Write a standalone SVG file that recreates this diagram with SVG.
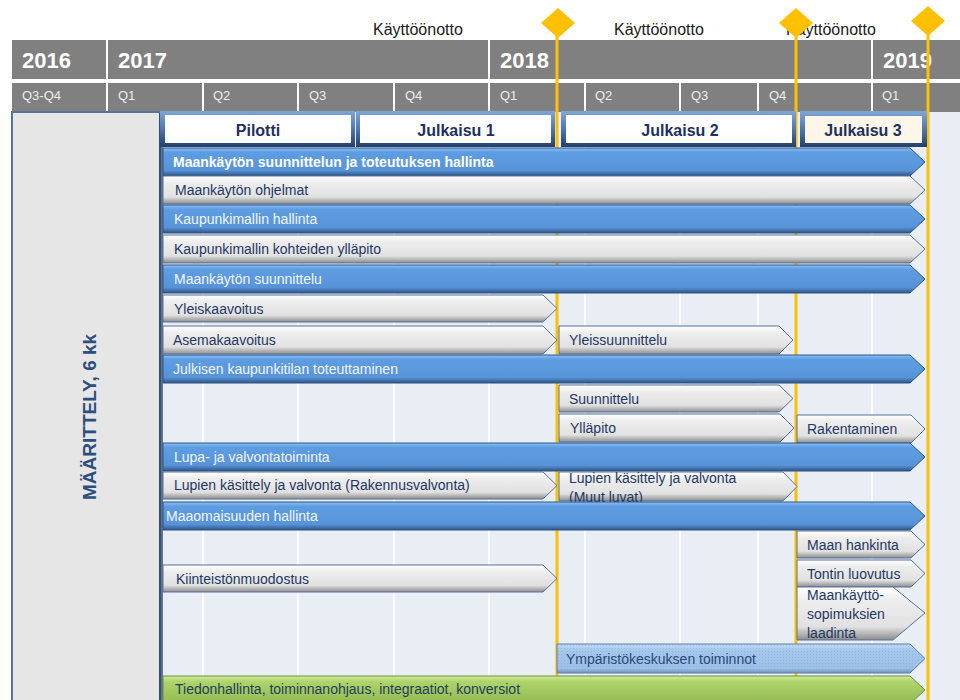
<svg xmlns="http://www.w3.org/2000/svg" width="960" height="700" viewBox="0 0 960 700">
<defs>
<style>
.hdr{fill:#808080}
.sep{stroke:#FFFFFF;stroke-width:2}
.grid{stroke:#FFFFFF;stroke-width:1.5}
.yr{font-family:"Liberation Sans",Arial,sans-serif;font-weight:bold;font-size:22px;fill:#FFFFFF}
.q{font-family:"Liberation Sans",Arial,sans-serif;font-size:13px;fill:#EDEDED}
.ko{font-family:"Liberation Sans",Arial,sans-serif;font-size:16px;fill:#1A1A1A}
.ms{stroke:#FFC000;stroke-width:3;fill:none}
.dia{fill:#FFC000}
.blue{fill:url(#gBlue);stroke:#2F5586;stroke-width:1}
.gray{fill:url(#gGray);stroke:#56739A;stroke-width:1}
.lblue{fill:url(#gLBlue);stroke:#5A7EAE;stroke-width:1}
.green{fill:url(#gGreen);stroke:#6E8E3A;stroke-width:1}
.t{font-family:"Liberation Sans",Arial,sans-serif;font-size:14px}
.tg{fill:#1F3864}
.tb{fill:#F2F6FC}
.tbb{fill:#FFFFFF;font-weight:bold}
.tl{fill:#2A4A78}
.tgr{fill:#1F3F5C}
.frame{fill:url(#gFrame)}
.jl{font-family:"Liberation Sans",Arial,sans-serif;font-size:16px;font-weight:bold;fill:#1F2F5F}
</style>
<linearGradient id="gBlue" x1="0" y1="0" x2="0" y2="1">
<stop offset="0" stop-color="#8EC0F5"/>
<stop offset="0.15" stop-color="#5E9DE2"/>
<stop offset="0.8" stop-color="#5893D8"/>
<stop offset="1" stop-color="#2F5586"/>
</linearGradient>
<linearGradient id="gGray" x1="0" y1="0" x2="0" y2="1">
<stop offset="0" stop-color="#FFFFFF"/>
<stop offset="0.25" stop-color="#EDEDED"/>
<stop offset="0.75" stop-color="#E1E1E1"/>
<stop offset="1" stop-color="#8C8C8C"/>
</linearGradient>
<linearGradient id="gLBlue" x1="0" y1="0" x2="0" y2="1">
<stop offset="0" stop-color="#C6DDF5"/>
<stop offset="0.2" stop-color="#A6C8EE"/>
<stop offset="0.85" stop-color="#9CC0E8"/>
<stop offset="1" stop-color="#6F8FB8"/>
</linearGradient>
<linearGradient id="gGreen" x1="0" y1="0" x2="0" y2="1">
<stop offset="0" stop-color="#D2EC9C"/>
<stop offset="0.2" stop-color="#AED46B"/>
<stop offset="1" stop-color="#93B852"/>
</linearGradient>
<linearGradient id="gFrame" x1="0" y1="0" x2="0" y2="1">
<stop offset="0" stop-color="#7FA6D8"/>
<stop offset="0.5" stop-color="#4E78B0"/>
<stop offset="1" stop-color="#243F6A"/>
</linearGradient>
<pattern id="dots" width="3" height="3" patternUnits="userSpaceOnUse">
<rect x="0" y="0" width="1" height="1" fill="#7E9FCB" opacity="0.45"/>
</pattern>
</defs>

<rect width="960" height="700" fill="#FFFFFF"/>
<g id="chart-background">
<rect x="162" y="111" width="798" height="589" fill="#E9EDF4"/>
<line class="grid" x1="203" y1="112" x2="203" y2="700"/>
<line class="grid" x1="298" y1="112" x2="298" y2="700"/>
<line class="grid" x1="394" y1="112" x2="394" y2="700"/>
<line class="grid" x1="489" y1="112" x2="489" y2="700"/>
<line class="grid" x1="585" y1="112" x2="585" y2="700"/>
<line class="grid" x1="680" y1="112" x2="680" y2="700"/>
<line class="grid" x1="758" y1="112" x2="758" y2="700"/>
<line class="grid" x1="872" y1="112" x2="872" y2="700"/>
</g>

<g id="timeline-header">
<rect class="hdr" x="12" y="40" width="948" height="39"/>
<rect class="hdr" x="12" y="83" width="948" height="29"/>
<line class="sep" x1="107" y1="40" x2="107" y2="112"/>
<line class="sep" x1="489" y1="40" x2="489" y2="112"/>
<line class="sep" x1="872" y1="40" x2="872" y2="112"/>
<line class="sep" x1="203" y1="83" x2="203" y2="112"/>
<line class="sep" x1="298" y1="83" x2="298" y2="112"/>
<line class="sep" x1="394" y1="83" x2="394" y2="112"/>
<line class="sep" x1="585" y1="83" x2="585" y2="112"/>
<line class="sep" x1="680" y1="83" x2="680" y2="112"/>
<line class="sep" x1="758" y1="83" x2="758" y2="112"/>
<text class="yr" x="22" y="68">2016</text>
<text class="yr" x="118" y="68">2017</text>
<text class="yr" x="500" y="68">2018</text>
<text class="yr" x="883" y="68">2019</text>
<text class="q" x="22" y="100">Q3-Q4</text>
<text class="q" x="118" y="100">Q1</text>
<text class="q" x="213" y="100">Q2</text>
<text class="q" x="309" y="100">Q3</text>
<text class="q" x="405" y="100">Q4</text>
<text class="q" x="500" y="100">Q1</text>
<text class="q" x="595" y="100">Q2</text>
<text class="q" x="691" y="100">Q3</text>
<text class="q" x="769" y="100">Q4</text>
<text class="q" x="882" y="100">Q1</text>
<text class="ko" x="373" y="35">Käyttöönotto</text>
<text class="ko" x="614" y="35">Käyttöönotto</text>
<text class="ko" x="786" y="35">Käyttöönotto</text>
</g>

<g id="left-panel">
<rect x="12" y="112" width="150" height="592" fill="#E6E6E6" stroke="#56749C" stroke-width="2"/>
<line x1="160" y1="113" x2="160" y2="700" stroke="#3C4F6A" stroke-width="2"/>
<text transform="translate(96,500) rotate(-90)" font-family="'Liberation Sans',Arial,sans-serif" font-size="19" font-weight="bold" fill="#2C4F80">MÄÄRITTELY, 6 kk</text>
</g>

<g id="milestone-lines">
<line class="ms" x1="557" y1="36" x2="557" y2="700"/>
<line class="ms" x1="796" y1="36" x2="796" y2="700"/>
<line class="ms" x1="928" y1="34" x2="928" y2="700"/>
</g>

<g id="milestones">
<polygon class="dia" points="558,8 575,23 558,38 541,23"/>
<polygon class="dia" points="796,8 813,23 796,38 779,23"/>
<polygon class="dia" points="928,6 945,21 928,36 911,21"/>
</g>

<g id="release-pilotti">
<rect class="frame" x="160" y="111" width="195" height="36"/>
<rect x="165" y="115" width="186" height="28" fill="#FFFFFF"/>
<text class="jl" x="258" y="136" text-anchor="middle">Pilotti</text>
</g>
<g id="release-julkaisu-1">
<rect class="frame" x="356" y="111" width="199" height="36"/>
<rect x="360" y="115" width="191" height="28" fill="#FFFFFF"/>
<text class="jl" x="456" y="136" text-anchor="middle">Julkaisu 1</text>
</g>
<g id="release-julkaisu-2">
<rect class="frame" x="561" y="111" width="235" height="36"/>
<rect x="566" y="115" width="226" height="28" fill="#FFFFFF"/>
<text class="jl" x="680" y="136" text-anchor="middle">Julkaisu 2</text>
</g>
<g id="release-julkaisu-3">
<rect class="frame" x="800" y="111" width="127" height="36"/>
<rect x="805" y="116" width="117" height="27" fill="#FEF6E9"/>
<text class="jl" x="863" y="136" text-anchor="middle">Julkaisu 3</text>
</g>

<g id="bar-maankayton-hallinta">
<path class="blue" d="M163 148 H910 L925 162 L910 176 H163 Z"/>
<text class="t tbb" x="173" y="167">Maankäytön suunnittelun ja toteutuksen hallinta</text>
</g>
<g id="bar-maankayton-ohjelmat">
<path class="gray" d="M163 176 H910 L925 190 L910 204 H163 Z"/>
<text class="t tg" x="175" y="195">Maankäytön ohjelmat</text>
</g>
<g id="bar-kaupunkimallin-hallinta">
<path class="blue" d="M163 205 H910 L925 219 L910 233 H163 Z"/>
<text class="t tb" x="174" y="224">Kaupunkimallin hallinta</text>
</g>
<g id="bar-kaupunkimallin-yllapito">
<path class="gray" d="M163 235 H910 L925 249 L910 263 H163 Z"/>
<text class="t tg" x="174" y="254">Kaupunkimallin kohteiden ylläpito</text>
</g>
<g id="bar-maankayton-suunnittelu">
<path class="blue" d="M163 265 H910 L925 279 L910 293 H163 Z"/>
<text class="t tb" x="174" y="284">Maankäytön suunnittelu</text>
</g>
<g id="bar-yleiskaavoitus">
<path class="gray" d="M163 295 H543 L557 308.5 L543 322 H163 Z"/>
<text class="t tg" x="174" y="314">Yleiskaavoitus</text>
</g>
<g id="bar-asemakaavoitus">
<path class="gray" d="M163 326 H543 L557 340 L543 354 H163 Z"/>
<text class="t tg" x="173" y="345">Asemakaavoitus</text>
</g>
<g id="bar-yleissuunnittelu">
<path class="gray" d="M559 326 H779 L793 340 L779 354 H559 Z"/>
<text class="t tg" x="569" y="345">Yleissuunnittelu</text>
</g>
<g id="bar-julkisen-kaupunkitilan">
<path class="blue" d="M163 355 H910 L925 369 L910 383 H163 Z"/>
<text class="t tb" x="173" y="374">Julkisen kaupunkitilan toteuttaminen</text>
</g>
<g id="bar-suunnittelu">
<path class="gray" d="M559 385 H779 L793 398.5 L779 412 H559 Z"/>
<text class="t tg" x="569" y="404">Suunnittelu</text>
</g>
<g id="bar-yllapito">
<path class="gray" d="M559 414 H780 L794 428 L780 442 H559 Z"/>
<text class="t tg" x="570" y="433">Ylläpito</text>
</g>
<g id="bar-rakentaminen">
<path class="gray" d="M797 415 H911 L925 429 L911 443 H797 Z"/>
<text class="t tg" x="807" y="434">Rakentaminen</text>
</g>
<g id="bar-lupa-ja-valvonta">
<path class="blue" d="M163 443 H910 L925 457 L910 471 H163 Z"/>
<text class="t tb" x="174" y="462">Lupa- ja valvontatoiminta</text>
</g>
<g id="bar-rakennusvalvonta">
<path class="gray" d="M163 472 H543 L557 485.5 L543 499 H163 Z"/>
<text class="t tg" x="174" y="490">Lupien käsittely ja valvonta (Rakennusvalvonta)</text>
</g>
<g id="bar-muut-luvat">
<path class="gray" d="M559 472 H783 L797 486.5 L783 501 H559 Z"/>
<text class="t tg" x="569" y="483">Lupien käsittely ja valvonta</text>
<text class="t tg" x="569" y="502">(Muut luvat)</text>
</g>
<g id="bar-maaomaisuuden-hallinta">
<path class="blue" d="M163 502 H910 L925 516 L910 530 H163 Z"/>
<text class="t tb" x="166" y="521">Maaomaisuuden hallinta</text>
</g>
<g id="bar-maan-hankinta">
<path class="gray" d="M797 531 H911 L925 544.5 L911 558 H797 Z"/>
<text class="t tg" x="807" y="550">Maan hankinta</text>
</g>
<g id="bar-tontin-luovutus">
<path class="gray" d="M797 560 H911 L925 573.5 L911 587 H797 Z"/>
<text class="t tg" x="807" y="579">Tontin luovutus</text>
</g>
<g id="bar-kiinteistonmuodostus">
<path class="gray" d="M163 565 H543 L557 578.5 L543 592 H163 Z"/>
<text class="t tg" x="176" y="584">Kiinteistönmuodostus</text>
</g>
<g id="bar-maankayttosopimukset">
<path class="gray" d="M797 587 H893 L925 613 L893 640 H797 Z"/>
<text class="t tg" x="807" y="600">Maankäyttö-</text>
<text class="t tg" x="807" y="619">sopimuksien</text>
<text class="t tg" x="807" y="638">laadinta</text>
</g>
<g id="bar-ymparistokeskus">
<path class="lblue" d="M557 644 H910 L925 658.5 L910 673 H557 Z"/>
<path d="M557 644 H910 L925 658.5 L910 673 H557 Z" fill="url(#dots)"/>
<text class="t tl" x="566" y="664">Ympäristökeskuksen toiminnot</text>
</g>
<g id="bar-tiedonhallinta">
<path class="green" d="M163 676 H910 L925 690 L910 704 H163 Z"/>
<text class="t tgr" x="175" y="694">Tiedonhallinta, toiminnanohjaus, integraatiot, konversiot</text>
</g>
</svg>
